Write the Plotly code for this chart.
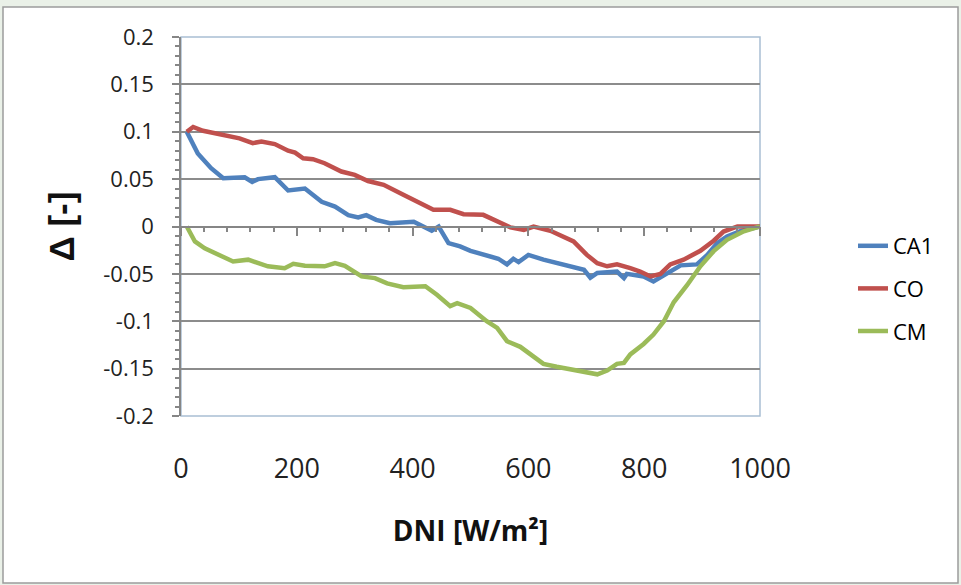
import plotly.graph_objects as go

# ---- data ----
ca1_x = [10, 29, 52, 73, 110, 123, 133, 162, 185, 214, 243, 266, 289, 306, 320, 337, 361, 402, 433, 445,
         462, 482, 500, 528, 548, 563, 574, 583, 600, 626, 649, 678, 696, 707, 719, 753, 765, 770, 799, 816,
         828, 851, 863, 891, 909, 926, 943, 966, 992, 1000]
ca1_y = [0.100, 0.077, 0.0615, 0.051, 0.052, 0.047, 0.050, 0.052, 0.038, 0.040, 0.026, 0.021, 0.012, 0.0095,
         0.012, 0.007, 0.0035, 0.005, -0.0045, 0.000, -0.0176, -0.021, -0.0257, -0.030, -0.034, -0.040, -0.034,
         -0.0376, -0.030, -0.035, -0.0387, -0.044, -0.0457, -0.054, -0.049, -0.0475, -0.0545, -0.050, -0.0527,
         -0.058, -0.054, -0.0457, -0.041, -0.040, -0.030, -0.0176, -0.0105, -0.005, -0.001, 0.0]

co_x = [10, 21, 38, 58, 81, 101, 124, 139, 162, 185, 197, 211, 228, 248, 277, 300, 323, 350, 384, 413, 436,
        465, 488, 522, 546, 569, 592, 609, 638, 655, 678, 701, 719, 736, 753, 776, 793, 811, 828, 845, 868,
        897, 920, 937, 961, 978, 1000]
co_y = [0.100, 0.105, 0.101, 0.0985, 0.095, 0.093, 0.088, 0.0897, 0.087, 0.080, 0.078, 0.072, 0.071, 0.0668,
        0.058, 0.0545, 0.048, 0.044, 0.0334, 0.0246, 0.0176, 0.0176, 0.013, 0.0123, 0.0053, -0.001, -0.0035,
        0.000, -0.0045, -0.0088, -0.0158, -0.030, -0.0387, -0.042, -0.040, -0.044, -0.0475, -0.0527, -0.050,
        -0.040, -0.035, -0.0257, -0.015, -0.0053, 0.0, 0.0, 0.0]

cm_x = [10, 24, 41, 64, 90, 116, 133, 150, 179, 194, 214, 237, 248, 266, 283, 312, 335, 356, 384, 422, 442,
        465, 477, 500, 528, 546, 563, 586, 603, 626, 649, 672, 695, 719, 736, 753, 765, 776, 799, 816, 834,
        851, 874, 897, 920, 943, 972, 1000]
cm_y = [0.0, -0.0158, -0.023, -0.030, -0.037, -0.035, -0.0387, -0.042, -0.044, -0.0394, -0.0415, -0.0415,
        -0.042, -0.0387, -0.0415, -0.0527, -0.0545, -0.060, -0.064, -0.063, -0.072, -0.084, -0.081, -0.086,
        -0.100, -0.107, -0.121, -0.127, -0.135, -0.145, -0.148, -0.151, -0.153, -0.156, -0.152, -0.145, -0.144,
        -0.135, -0.124, -0.114, -0.100, -0.080, -0.062, -0.042, -0.026, -0.014, -0.005, 0.0]

series_names = ["CA1", "CO", "CM"]
series_colors = ["#4f81bd", "#c0504d", "#9bbb59"]

y_tickvals = [0.2, 0.15, 0.1, 0.05, 0, -0.05, -0.1, -0.15, -0.2]
y_ticktext = ["0.2", "0.15", "0.1", "0.05", "0", "-0.05", "-0.1", "-0.15", "-0.2"]
x_tickvals = [0, 200, 400, 600, 800, 1000]
x_ticktext = ["0", "200", "400", "600", "800", "1000"]

FONT = "Open Sans, Liberation Sans, sans-serif"

fig = go.Figure()
for name, xs, ys, col in zip(series_names, [ca1_x, co_x, cm_x], [ca1_y, co_y, cm_y], series_colors):
    fig.add_trace(go.Scatter(x=xs, y=ys, mode="lines", name=name, legendgroup=name,
                             line=dict(color=col, width=4.5)))

# zero-crossing category axis with ticks (like Excel)
fig.add_trace(go.Scatter(x=[0, 1000], y=[None, None], xaxis="x2", showlegend=False, hoverinfo="skip"))

# plot-area geometry in pixels
L, R, T, B = 181, 760, 37, 416
W, H = 961, 585
pw, ph = R - L, B - T

def px(xp):
    return (xp - L) / pw

def py(yp):
    return (B - yp) / ph

fig.update_layout(
    width=W, height=H,
    margin=dict(l=L, r=W - R, t=T, b=H - B, pad=0),
    paper_bgcolor="#eaf1e8",
    plot_bgcolor="rgba(0,0,0,0)",
    font=dict(family=FONT, color="#000000"),
    showlegend=True,
    legend=dict(x=px(853), y=py(225), xanchor="left", yanchor="top",
                font=dict(size=22, family=FONT, color="#000000"),
                tracegroupgap=11, itemwidth=30, bgcolor="rgba(0,0,0,0)"),
    xaxis=dict(range=[0, 1000], tickvals=x_tickvals, ticktext=x_ticktext,
               showgrid=False, zeroline=False, showline=False, ticks="",
               tickfont=dict(size=27, family=FONT, color="#222222"),
               ticklabelstandoff=34,
               title=dict(text="<b>DNI [W/m²]</b>", font=dict(size=28, family=FONT, color="#111111"),
                          standoff=36)),
    xaxis2=dict(range=[0, 1000], overlaying="x", anchor="free", position=0.5, side="bottom",
                showline=True, linecolor="#868686", linewidth=1.5,
                ticks="outside", tickcolor="#868686", ticklen=9, tickwidth=1.5, dtick=200, tick0=0,
                minor=dict(dtick=40, tick0=0, ticks="outside", ticklen=5, tickcolor="#868686", tickwidth=1.5),
                showticklabels=False, showgrid=False, zeroline=False),
    yaxis=dict(range=[-0.2, 0.2], tickvals=y_tickvals, ticktext=y_ticktext,
               showgrid=True, gridcolor="#8c8c8c", gridwidth=1.5, zeroline=False,
               showline=True, linecolor="#868686", linewidth=1.5,
               ticks="outside", ticklen=7, tickcolor="#868686", tickwidth=1.5,
               minor=dict(dtick=0.01, tick0=0, ticks="outside", ticklen=4, tickcolor="#868686",
                          showgrid=False),
               tickfont=dict(size=22, family=FONT, color="#222222"),
               ticklabelstandoff=14,
               title=dict(text="<b>Δ [-]</b>", font=dict(size=35, family="Liberation Sans, Arial", color="#111111"),
                          standoff=18)),
    shapes=[
        dict(type="rect", xref="paper", yref="paper", x0=px(3), x1=px(958), y0=py(583), y1=py(7),
             fillcolor="#ffffff", line=dict(color="#9c9c9c", width=1.5), layer="below"),
        dict(type="rect", xref="paper", yref="paper", x0=0, x1=1, y0=0, y1=1,
             line=dict(color="#a9bfd3", width=1.5), layer="between"),
    ],
)

fig.write_html("out.html")
